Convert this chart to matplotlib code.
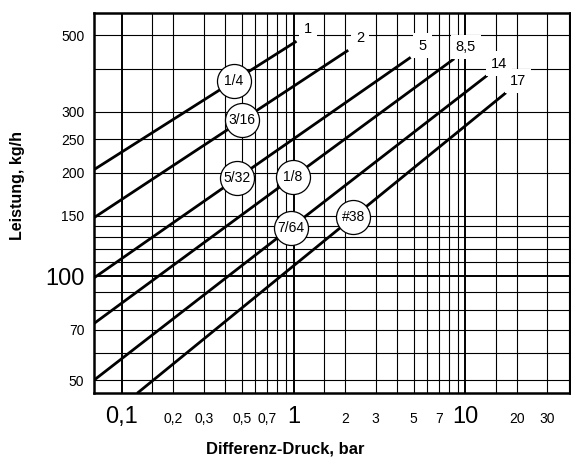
import numpy as np
import matplotlib
matplotlib.use('Agg')
import matplotlib.pyplot as plt
from matplotlib.ticker import NullLocator

plt.rcParams['font.family'] = ['Liberation Sans Narrow', 'Liberation Sans', 'DejaVu Sans']

# Düsen-Kennlinien: Bohrung, max. Differenzdruck, Start-/Endpunkt
nozzles = ['1/4', '3/16', '5/32', '1/8', '7/64', '#38']
max_dp = ['1', '2', '5', '8,5', '14', '17']
dp_start = [0.069, 0.069, 0.069, 0.069, 0.069, 0.123]
flow_start = [204, 148, 99, 73, 50, 45.8]
dp_end = [1.04, 2.08, 4.8, 8.6, 13.4, 17.2]
flow_end = [481, 453, 432, 428, 383, 341]
label_dp = [0.45, 0.5, 0.47, 0.99, 0.96, 2.22]

x_ticks = [0.1, 0.2, 0.3, 0.5, 0.7, 1, 2, 3, 5, 7, 10, 20, 30]
x_labels = ['0,1', '0,2', '0,3', '0,5', '0,7', '1', '2', '3', '5', '7', '10', '20', '30']
y_ticks = [50, 70, 100, 150, 200, 250, 300, 500]
y_labels = ['50', '70', '100', '150', '200', '250', '300', '500']

x_grid = [0.1, 0.15, 0.2, 0.3, 0.4, 0.5, 0.6, 0.7, 0.8, 0.9, 1, 1.5, 2, 3, 4, 5, 6, 7, 8, 9, 10, 15, 20, 30, 40]
y_grid = [50, 60, 70, 80, 90, 100, 110, 120, 130, 140, 150, 200, 250, 300, 400, 500]

fig = plt.figure(figsize=(5.71, 4.67), dpi=100)
ax = fig.add_axes([0.1646, 0.1578, 0.998 - 0.1646, 0.9728 - 0.1578])
ax.set_xscale('log')
ax.set_yscale('log')
ax.set_xlim(0.069, 40.5)
ax.set_ylim(45.8, 582)

for x in x_grid:
    lw = 1.4 if x in (0.1, 1, 10) else 0.8
    ax.axvline(x, color='black', lw=lw, zorder=1)
for y in y_grid:
    lw = 1.4 if y == 100 else 0.8
    ax.axhline(y, color='black', lw=lw, zorder=1)

for i in range(len(nozzles)):
    ax.plot([dp_start[i], dp_end[i]], [flow_start[i], flow_end[i]],
            color='black', lw=2.0, solid_capstyle='butt', zorder=3)
    # Kreis-Markierung auf der Linie
    lx0, lx1 = np.log10(dp_start[i]), np.log10(dp_end[i])
    ly0, ly1 = np.log10(flow_start[i]), np.log10(flow_end[i])
    t = (np.log10(label_dp[i]) - lx0) / (lx1 - lx0)
    cy = 10 ** (ly0 + t * (ly1 - ly0))
    ax.scatter([label_dp[i]], [cy], s=600, facecolor='white', edgecolor='black',
               linewidth=0.9, zorder=5)
    ax.text(label_dp[i], cy, nozzles[i], ha='center', va='center', fontsize=10, zorder=6)
    ax.annotate(max_dp[i], (dp_end[i], flow_end[i]), xytext=(8.5, 8.5),
                textcoords='offset points', ha='center', va='center', fontsize=10.5,
                bbox=dict(boxstyle='square,pad=0.35', fc='white', ec='none'), zorder=7)

ax.xaxis.set_minor_locator(NullLocator())
ax.yaxis.set_minor_locator(NullLocator())
ax.set_xticks(x_ticks)
ax.set_xticklabels(x_labels)
ax.set_yticks(y_ticks)
ax.set_yticklabels(y_labels)
ax.tick_params(axis='x', length=0, pad=21.5, labelsize=10)
ax.tick_params(axis='y', length=0, pad=7, labelsize=10)
for lab in ax.get_xticklabels():
    lab.set_va('baseline')
    if lab.get_text() in ('0,1', '1', '10'):
        lab.set_fontsize(17)
for lab in ax.get_yticklabels():
    if lab.get_text() == '100':
        lab.set_fontsize(17)

for s in ax.spines.values():
    s.set_linewidth(1.8)
    s.set_zorder(8)

fig.text(0.5, 1 - 449 / 467, 'Differenz-Druck, bar', ha='center', va='center',
         fontsize=12, fontweight='bold', family=['Liberation Sans', 'DejaVu Sans'])
fig.text(18 / 571, 1 - 186 / 467, 'Leistung, kg/h', ha='center', va='center',
         rotation=90, fontsize=11.5, fontweight='bold', family=['Liberation Sans', 'DejaVu Sans'])

fig.savefig('out.png', dpi=100)
